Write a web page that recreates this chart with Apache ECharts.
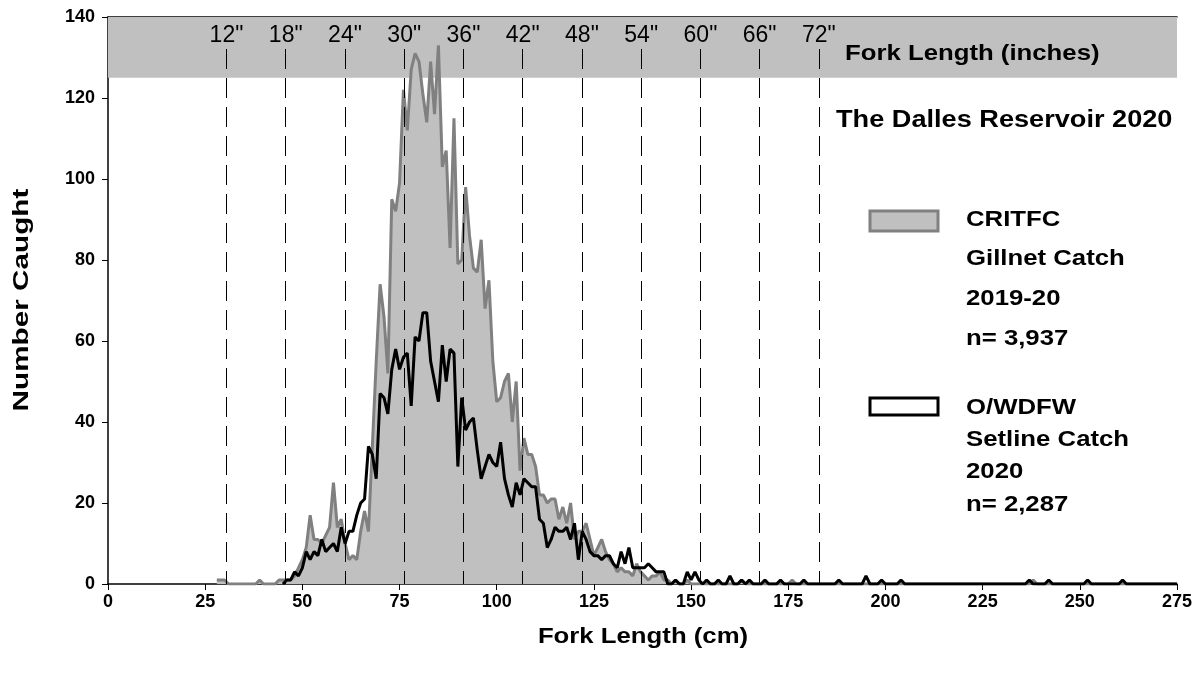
<!DOCTYPE html>
<html>
<head>
<meta charset="utf-8">
<script src="https://cdn.jsdelivr.net/npm/echarts@6/dist/echarts.min.js"></script>
<style>
html,body{margin:0;padding:0;background:#fff;}
#chart{width:1204px;height:683px;}
</style>
</head>
<body>
<div id="chart"></div>
<script>
// 1-cm fork length bins, first bin at 28 cm, last at 275 cm
const firstBinCm = 28;
// CRITFC Gillnet Catch 2019-20 (n= 3,937), counts per cm bin from 28 cm
const critfcCounts = [
  1,1,1,0,0,0,0,0,0,0,            // 28-37
  0,1,0,0,0,0,1,1,1,1,            // 38-47
  2,4,6,9,17,11,11,10,12,14,      // 48-57
  25,14,16,10,6,7,6,13,18,13,     // 58-67
  34,55,74,66,52,95,92,99,122,112,// 68-77
  127,131,129,121,114,129,116,133,103,107, // 78-87
  83,115,79,80,98,86,78,77,85,68, // 88-97
  75,55,45,46,50,52,40,50,28,36,  // 98-107
  32,32,29,22,22,20,21,21,16,19,  // 108-117
  15,20,11,13,13,15,11,7,9,11,    // 118-127
  8,6,5,3,4,3,3,2,5,3,            // 128-137
  2,1,2,2,3,1,1,0,1,0,            // 138-147
  0,1,0,0,0,0,0,0,0,0,            // 148-157
  0,0,0,0,0,1,0,0,0,0,            // 158-167
  0,0,0,0,0,0,0,0,1,0,            // 168-177
  0,0,0,0,0,0,0,0,0,0,            // 178-187
  0,0,0,0,0,0,0,0,0,0,            // 188-197
  0,0,0,0,0,0,0,0,0,0,            // 198-207
  0,0,0,0,0,0,0,0,0,0,            // 208-217
  0,0,0,0,0,0,0,0,0,0,            // 218-227
  0,0,0,0,0,0,0,0,0,0,            // 228-237
  1,0,0,0,0,0,0,0,0,0,            // 238-247
  0,0,0,0,0,0,0,0,0,0,            // 248-257
  0,0,0,0,0,0,0,0,0,0,            // 258-267
  0,0,0,0,0,0,0,0                 // 268-275
];
// O/WDFW Setline Catch 2020 (n= 2,287), counts per cm bin from 28 cm
const owdfwCounts = [
  null,null,null,null,null,null,null,null,null,null, // 28-37
  null,null,null,null,null,null,null,0,1,1,          // 38-47
  3,2,4,8,6,8,7,11,8,9,           // 48-57
  10,8,14,10,13,13,17,20,21,34,   // 58-67
  32,26,47,46,42,53,58,53,56,57,  // 68-77
  44,61,60,67,67,55,50,45,59,50,  // 78-87
  58,57,29,46,38,40,41,33,26,29,  // 88-97
  32,30,29,35,26,22,19,25,22,26,  // 98-107
  25,24,24,16,15,9,11,14,13,13,   // 108-117
  14,11,15,6,13,11,8,7,7,6,       // 118-127
  7,7,5,4,8,5,9,4,4,4,            // 128-137
  4,5,4,3,3,3,0,0,1,0,            // 138-147
  0,3,1,3,1,0,1,0,0,1,            // 148-157
  0,0,2,0,0,1,0,1,0,0,            // 158-167
  0,1,0,0,0,1,0,0,0,0,            // 168-177
  0,1,0,0,0,0,0,0,0,0,            // 178-187
  1,0,0,0,0,0,0,2,0,0,            // 188-197
  0,1,0,0,0,0,1,0,0,0,            // 198-207
  0,0,0,0,0,0,0,0,0,0,            // 208-217
  0,0,0,0,0,0,0,0,0,0,            // 218-227
  0,0,0,0,0,0,0,0,0,1,            // 228-237
  0,0,0,0,1,0,0,0,0,0,            // 238-247
  0,0,0,0,1,0,0,0,0,0,            // 248-257
  0,0,0,1,0,0,0,0,0,0,            // 258-267
  0,0,0,0,0,0,0,0                 // 268-275
];
const inchMarks = [12, 18, 24, 30, 36, 42, 48, 54, 60, 66, 72];
const critfcLegend = ['CRITFC', 'Gillnet Catch', '2019-20', 'n= 3,937'];
const owdfwLegend = ['O/WDFW', 'Setline Catch', '2020', 'n= 2,287'];

const FONT = "'Liberation Sans', Arial, sans-serif";
const toPairs = arr => arr.map((v, i) => [firstBinCm + i, v]);

const chart = echarts.init(document.getElementById('chart'), null, {renderer: 'canvas'});

function boldText(text, x, y, size, sx, align, extra) {
  return Object.assign({
    type: 'text', x: x, y: y, z: 100, scaleX: sx,
    style: {text: text, font: 'bold ' + size + 'px ' + FONT, fill: '#000',
            align: align || 'left', verticalAlign: 'middle'}
  }, extra || {});
}

const legendText = [];
[220, 259, 299, 339].forEach((y, i) => legendText.push(boldText(critfcLegend[i], 966, y, 22, 1.17)));
[408, 440, 472, 505].forEach((y, i) => legendText.push(boldText(owdfwLegend[i], 966, y, 22, 1.17)));

chart.setOption({
  animation: false,
  backgroundColor: '#fff',
  grid: {left: 108, right: 27, top: 17, bottom: 99},
  xAxis: [{
    type: 'value', min: 0, max: 275, interval: 25,
    axisLine: {show: true, lineStyle: {color: '#000', width: 1.5}},
    axisTick: {show: true, length: 6, lineStyle: {color: '#000'}},
    axisLabel: {fontFamily: FONT, fontWeight: 'bold', fontSize: 18, color: '#000', margin: 9},
    splitLine: {show: false}
  }, {
    type: 'value', min: 0, max: 275, position: 'top',
    axisLine: {show: true, onZero: false, lineStyle: {color: '#000', width: 1.5}},
    axisTick: {show: false}, axisLabel: {show: false}, splitLine: {show: false}
  }],
  yAxis: {
    type: 'value', min: 0, max: 140, interval: 20,
    axisLine: {show: true, lineStyle: {color: '#000', width: 1.5}},
    axisTick: {show: true, length: 6, lineStyle: {color: '#000'}},
    axisLabel: {fontFamily: FONT, fontWeight: 'bold', fontSize: 18, color: '#000', margin: 13},
    splitLine: {show: false}
  },
  series: [{
    name: 'band', type: 'line', data: [], z: 1, silent: true,
    markArea: {
      silent: true,
      itemStyle: {color: '#c0c0c0'},
      data: [[{yAxis: 125}, {yAxis: 140}]]
    }
  }, {
    name: 'CRITFC', type: 'line', data: toPairs(critfcCounts), z: 2,
    symbol: 'none', lineStyle: {color: '#808080', width: 3},
    areaStyle: {color: '#c0c0c0', opacity: 1}
  }, {
    name: 'inches', type: 'line', data: [], z: 3, silent: true,
    markLine: {
      silent: true, symbol: 'none',
      lineStyle: {color: '#000', width: 1, type: [20, 9]},
      label: {
        show: true, position: 'start', distance: 2,
        fontFamily: FONT, fontSize: 23, color: '#000'
      },
      data: inchMarks.map(inch => [
        {coord: [inch * 2.54, 132.1], label: {formatter: inch + '"'}},
        {coord: [inch * 2.54, 0]}
      ])
    }
  }, {
    name: 'O/WDFW', type: 'line', data: toPairs(owdfwCounts), z: 4,
    symbol: 'none', lineStyle: {color: '#000', width: 3}
  }],
  graphic: [
    boldText('Fork Length (inches)', 845, 54, 22, 1.17),
    boldText('The Dalles Reservoir 2020', 836, 121, 23, 1.18),
    boldText('Fork Length (cm)', 643, 637, 22, 1.17, 'center'),
    boldText('Number Caught', 22, 300, 22, 1.35, 'center', {rotation: Math.PI / 2}),
    {type: 'rect', z: 100, shape: {x: 870, y: 211, width: 68, height: 20},
     style: {fill: '#c0c0c0', stroke: '#808080', lineWidth: 3}},
    {type: 'rect', z: 100, shape: {x: 870, y: 398, width: 68, height: 17},
     style: {fill: '#fff', stroke: '#000', lineWidth: 3}}
  ].concat(legendText)
});
</script>
</body>
</html>
